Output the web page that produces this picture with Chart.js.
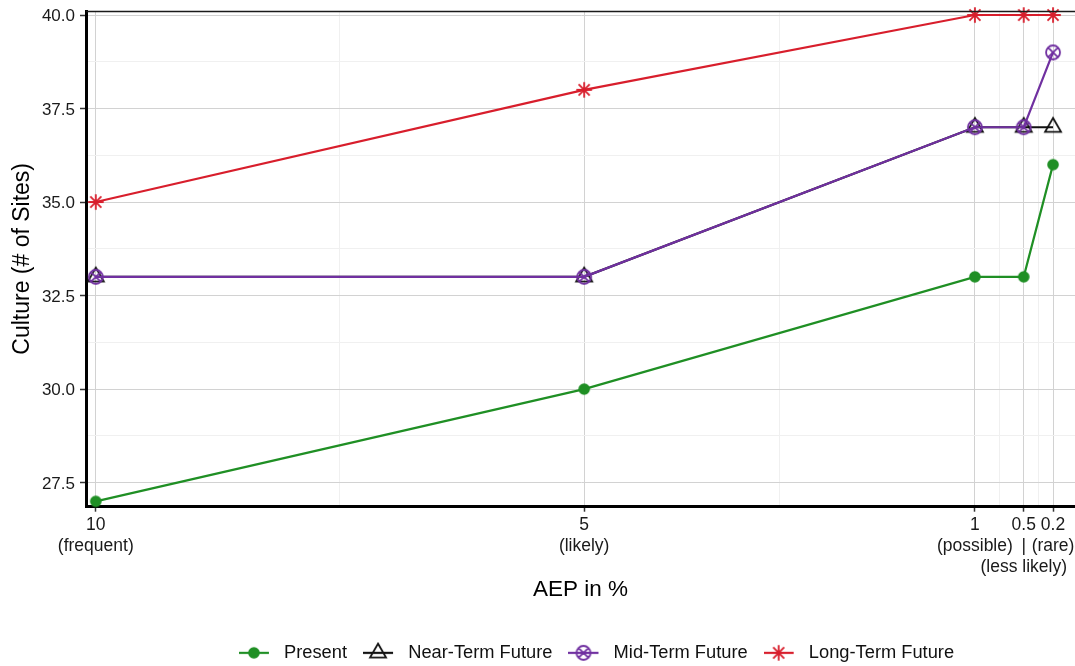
<!DOCTYPE html>
<html>
<head>
<meta charset="utf-8">
<title>Culture sites by AEP</title>
<script src="https://cdn.jsdelivr.net/npm/chart.js@4/dist/chart.umd.min.js"></script>
<style>
  html, body { margin: 0; padding: 0; background: #ffffff; }
  #wrap { width: 1075px; height: 666px; }
</style>
</head>
<body>
<div id="wrap"><canvas id="chart" width="1075" height="666"></canvas></div>
<script>
// ---- data ----
const aep = [10, 5, 1, 0.5, 0.2];
const aepLabels = [
  ["10", "(frequent)"],
  ["5", "(likely)"],
  ["1", "(possible)"],
  ["0.5", "|", "(less likely)"],
  ["0.2", "(rare)"]
];
const present  = [27, 30, 33, 33, 36];
const nearTerm = [33, 33, 37, 37, 37];
const midTerm  = [33, 33, 37, 37, 39];
const longTerm = [35, 38, 40, 40, 40];
const seriesNames = ["Present", "Near-Term Future", "Mid-Term Future", "Long-Term Future"];

const xMinor = [7.5, 3, 0.75, 0.35];
const yMajor = [27.5, 30, 32.5, 35, 37.5, 40];
const yMinor = [28.75, 31.25, 33.75, 36.25, 38.75];

// ---- styling ----
const FONT = "'Liberation Sans', Arial, Helvetica, sans-serif";
const COLORS = ["#1f8f24", "#111111", "#7030a0", "#d81e2c"];
const SHAPES = ["dot", "triangle", "circlecross", "asterisk"];

function drawShape(g, kind, color, cx, cy) {
  g.strokeStyle = color;
  g.fillStyle = color;
  g.lineWidth = 1.8;
  g.beginPath();
  if (kind === "dot") {
    g.arc(cx, cy, 5.8, 0, Math.PI * 2);
    g.fill();
  } else if (kind === "triangle") {
    const r = 9.2;
    g.moveTo(cx, cy - r);
    g.lineTo(cx + r * 0.866, cy + r / 2);
    g.lineTo(cx - r * 0.866, cy + r / 2);
    g.closePath();
    g.stroke();
  } else if (kind === "circlecross") {
    const r = 7, d = r * 0.707;
    g.arc(cx, cy, r, 0, Math.PI * 2);
    g.moveTo(cx - d, cy - d); g.lineTo(cx + d, cy + d);
    g.moveTo(cx + d, cy - d); g.lineTo(cx - d, cy + d);
    g.stroke();
  } else if (kind === "asterisk") {
    const r = 7.8, d = r * 0.707;
    g.moveTo(cx - r, cy); g.lineTo(cx + r, cy);
    g.moveTo(cx, cy - r); g.lineTo(cx, cy + r);
    g.moveTo(cx - d, cy - d); g.lineTo(cx + d, cy + d);
    g.moveTo(cx + d, cy - d); g.lineTo(cx - d, cy + d);
    g.stroke();
  }
}

function pointImage(kind, color) {
  const c = document.createElement("canvas");
  c.width = 24; c.height = 24;
  drawShape(c.getContext("2d"), kind, color, 12, 12);
  return c;
}

// legend key: a short line with the marker on it
const KEY_W = 36, KEY_LINE = 30;
function keyImage(kind, color) {
  const c = document.createElement("canvas");
  c.width = KEY_W; c.height = 22;
  const g = c.getContext("2d");
  g.strokeStyle = color; g.lineWidth = 2.2;
  g.beginPath(); g.moveTo(0, 11); g.lineTo(KEY_LINE, 11); g.stroke();
  drawShape(g, kind, color, KEY_LINE / 2, 11);
  return c;
}

const seriesValues = [present, nearTerm, midTerm, longTerm];
// purple drawn over black where the two lines coincide
const drawOrder = [0, 3, 2, 1];

const datasets = seriesValues.map((vals, i) => ({
  label: seriesNames[i],
  data: aep.map((x, j) => ({ x: x, y: vals[j] })),
  borderColor: COLORS[i],
  backgroundColor: COLORS[i],
  borderWidth: 2.2,
  pointStyle: pointImage(SHAPES[i], COLORS[i]),
  pointRadius: 8,
  tension: 0,
  fill: false,
  clip: false,
  order: drawOrder[i]
}));

const keyImages = SHAPES.map((s, i) => keyImage(s, COLORS[i]));

const xMinorSet = new Set(xMinor);
const yMinorSet = new Set(yMinor);

// thin frame line along the top of the panel
const topFrame = {
  id: "topFrame",
  afterDraw(chart) {
    const { ctx, chartArea: a } = chart;
    ctx.save();
    ctx.strokeStyle = "#1a1a1a";
    ctx.lineWidth = 1.6;
    ctx.beginPath();
    ctx.moveTo(a.left, a.top + 0.5);
    ctx.lineTo(a.right, a.top + 0.5);
    ctx.stroke();
    ctx.restore();
  }
};

// nudge the legend block to its place under the panel
const legendNudge = {
  id: "legendNudge",
  afterLayout(chart) {
    const lg = chart.legend;
    if (!lg) return;
    lg.left += 16; lg.right += 16;
    lg.top += 6; lg.bottom += 6;
  }
};

new Chart(document.getElementById("chart"), {
  type: "line",
  data: { datasets },
  plugins: [topFrame, legendNudge],
  options: {
    responsive: false,
    animation: false,
    devicePixelRatio: 1,
    events: [],
    layout: { autoPadding: false, padding: { top: 11, right: 0, bottom: 0, left: 0 } },
    plugins: {
      tooltip: { enabled: false },
      legend: {
        position: "bottom",
        fullSize: false,
        labels: {
          usePointStyle: true,
          pointStyleWidth: KEY_W,
          padding: 16,
          color: "#111111",
          font: { family: FONT, size: 18.3 },
          generateLabels: (chart) => seriesNames.map((name, i) => ({
            text: name,
            pointStyle: keyImages[i],
            fillStyle: COLORS[i],
            strokeStyle: COLORS[i],
            lineWidth: 0,
            hidden: false,
            datasetIndex: i,
            fontColor: "#111111"
          }))
        }
      }
    },
    scales: {
      x: {
        type: "linear",
        reverse: true,
        min: -0.025,
        max: 10.1,
        afterBuildTicks: (scale) => {
          const vals = aep.concat(xMinor).sort((a, b) => a - b);
          scale.ticks = vals.map(v => ({ value: v }));
        },
        afterFit: (scale) => {
          scale.height = 115;
          scale.paddingLeft = 0; scale.paddingRight = 0;
        },
        border: { display: true, color: "#000000", width: 3 },
        grid: {
          color: (ctx) => (ctx.tick && xMinorSet.has(ctx.tick.value)) ? "#f0f0f0" : "#d2d2d2",
          lineWidth: 1,
          tickLength: 5,
          tickWidth: 1.5,
          tickColor: (ctx) => (ctx.tick && xMinorSet.has(ctx.tick.value)) ? "rgba(0,0,0,0)" : "#333333"
        },
        ticks: {
          autoSkip: false,
          maxRotation: 0,
          minRotation: 0,
          padding: 3,
          color: "#1a1a1a",
          font: { family: FONT, size: 17.5, lineHeight: 1.2 },
          callback: (value) => {
            const k = aep.indexOf(value);
            return k >= 0 ? aepLabels[k] : "";
          }
        },
        title: {
          display: true,
          text: "AEP in %",
          color: "#000000",
          font: { family: FONT, size: 22.5 },
          padding: { top: 0, bottom: 18 }
        }
      },
      y: {
        type: "linear",
        min: 26.856,
        max: 40.107,
        afterBuildTicks: (scale) => {
          const vals = yMajor.concat(yMinor).sort((a, b) => a - b);
          scale.ticks = vals.map(v => ({ value: v }));
        },
        afterFit: (scale) => {
          scale.width = 86;
          scale.paddingTop = 0; scale.paddingBottom = 0;
        },
        border: { display: true, color: "#000000", width: 3 },
        grid: {
          color: (ctx) => (ctx.tick && yMinorSet.has(ctx.tick.value)) ? "#f0f0f0" : "#d2d2d2",
          lineWidth: 1,
          tickLength: 6,
          tickWidth: 1.5,
          tickColor: (ctx) => (ctx.tick && yMinorSet.has(ctx.tick.value)) ? "rgba(0,0,0,0)" : "#333333"
        },
        ticks: {
          autoSkip: false,
          padding: 5,
          labelOffset: 1.5,
          color: "#1a1a1a",
          font: { family: FONT, size: 17 },
          callback: (value) => yMinorSet.has(value) ? "" : value.toFixed(1)
        },
        title: {
          display: true,
          text: "Culture (# of Sites)",
          color: "#000000",
          font: { family: FONT, size: 23 },
          padding: { top: 9, bottom: 0 }
        }
      }
    }
  }
});
</script>
</body>
</html>
